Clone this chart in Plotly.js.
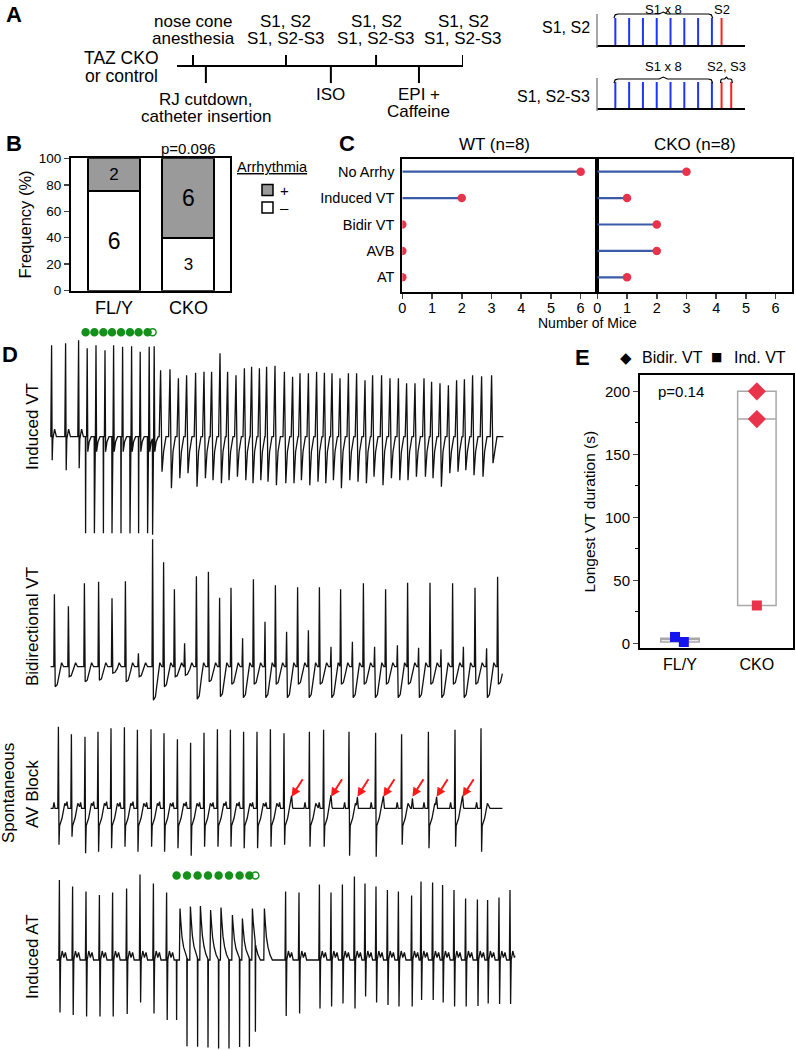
<!DOCTYPE html>
<html>
<head>
<meta charset="utf-8">
<script src="https://cdn.plot.ly/plotly-3.0.1.min.js"></script>
<style>html,body{margin:0;padding:0;background:#fff;}</style>
</head>
<body>
<div id="chart" style="width:796px;height:1050px;"></div>
<script>
// ---------- data ----------
// A: protocol timeline (position along the protocol line, 0-100)
let upSteps = [5.6, 38.1, 69.6, 100];
let upLabels = [["nose cone", "anesthesia"], ["S1, S2", "S1, S2-S3"], ["S1, S2", "S1, S2-S3"], ["S1, S2", "S1, S2-S3"]];
let downSteps = [10.1, 53.8, 84.6];
let downLabels = [["RJ cutdown,", "catheter insertion"], ["ISO"], ["EPI +", "Caffeine"]];
// A: pacing trains (ms)
let s1Times = [0, 100, 200, 300, 400, 500, 600, 700];
let s2Times = [770];
let s2s3Times = [770, 840];

// B: arrhythmia frequency (%) and counts
let groupsB = ["FL/Y", "CKO"];
let pctNoArr = [75, 40];
let pctArr = [25, 60];
let nNoArr = [6, 3];
let nArr = [2, 6];

// C: number of mice per arrhythmia type
let arrhyTypes = ["No Arrhy", "Induced VT", "Bidir VT", "AVB", "AT"];
let wtMice = [6, 2, 0, 0, 0];
let ckoMice = [3, 1, 2, 2, 1];

// E: longest VT duration (s)
let groupsE = ["FL/Y", "CKO"];
let flyIndVT = [5, 1];
let flyIndJitter = [-0.065, 0.05];
let ckoBidirVT = [200, 178];
let ckoIndVT = [30];
let boxQ1 = [1, 30], boxMed = [3, 178], boxQ3 = [4, 200];

// D: ECG beats (time ms, amplitude mV)
let vtPreTimes = [8, 78, 143], vtPreR = [1.83, 1.87, 1.93], vtPreS = [0.47, 0.67, 0.63];
let vtStim = [178, 222, 267, 310, 355, 400, 443, 488, 513], vtStimAmp = 1.93;
let vtPacedR = [1.77, 1.83, 1.73, 1.83, 1.8, 1.81, 1.7, 1.8, 1.81];
let vtTimes = [553,600,642,683,728,770,808,850,888,930,972,1008,1047,1083,1125,1172,1213,1250,1292,1333,1372,1410,1450,1492,1533,1575,1613,1658,1700,1742,1783,1825,1870,1908,1950,1992,2033,2072,2113,2158,2208];
let vtR = [1.33,1.35,1.17,1.23,1.28,1.30,1.30,1.67,1.30,1.23,1.37,1.40,1.37,1.40,1.42,1.30,1.20,1.27,1.27,1.30,1.28,1.27,1.17,1.27,1.27,1.13,1.23,1.23,1.17,1.17,1.07,1.07,1.17,1.10,1.07,1.03,1.13,1.15,1.23,1.21,1.23];
let vtS = [0.70,1.03,0.83,0.73,1.00,0.83,0.87,0.93,0.87,0.80,0.87,0.93,0.87,0.90,0.97,0.93,0.93,0.87,0.97,0.90,0.93,0.87,1.03,0.87,0.90,0.93,0.80,0.97,0.83,0.87,0.87,0.80,0.80,0.83,1.00,0.73,0.70,0.67,0.77,0.80,0.53];

let bvtTimes = [22,92,172,243,310,377,442,513,568,622,673,732,792,848,905,963,1017,1075,1127,1183,1238,1292,1347,1405,1453,1512,1567,1623,1678,1737,1788,1843,1900,1955,2013,2067,2125,2183,2238];
let bvtR = [1.45,1.21,1.67,1.70,1.37,1.71,0.27,2.55,2.09,1.55,0.47,1.81,1.90,1.38,1.58,0.57,1.75,0.90,1.63,0.70,1.59,0.73,1.59,0.40,1.55,0.50,1.67,0.40,1.55,0.43,1.68,0.38,1.68,0.35,1.67,0.40,1.58,0.37,1.80];
let bvtS = [0.40,0.20,0.30,0.27,0.13,0.30,0.20,0.67,0.40,0.20,0.17,0.65,0.30,0.60,0.35,0.62,0.35,0.62,0.35,0.62,0.35,0.62,0.35,0.62,0.35,0.62,0.35,0.62,0.35,0.62,0.35,0.62,0.35,0.62,0.35,0.62,0.35,0.62,0.35];

let avbTimes = [42,107,175,240,305,372,437,505,570,637,703,770,837,902,968,1035,1102,1170,1297,1368,1495,1628,1758,1892,2025,2155];
let avbR = [1.63,1.48,1.43,1.53,1.60,1.62,1.57,1.58,1.50,1.38,1.31,1.51,1.58,1.57,1.53,1.53,1.58,1.50,1.53,1.57,1.53,1.51,1.48,1.53,1.57,1.60];
let avbS = [0.73,0.57,0.90,0.87,0.80,0.77,0.87,0.77,0.87,0.80,0.95,0.77,0.77,0.77,0.80,0.80,0.77,0.73,0.77,0.77,0.95,0.97,0.73,0.80,0.77,0.87];
let avbBlockedP = [1208, 1405, 1537, 1667, 1812, 1933, 2063];

let atPreTimes = [47,113,180,247,313,383,450,517,583];
let atPreR = [1.60,1.47,1.37,1.30,1.35,1.43,1.71,1.53,1.35];
let atPreS = [1.05,1.10,1.13,1.13,1.13,1.08,0.85,1.07,1.20];
let atStim = [633,685,738,790,843,895,948,997,1027];
let atStimAmp = [1.2,1.77,1.77,1.77,1.77,1.77,1.77,1.77,1.77];
let atPacedTimes = [650,702,752,803,855,912,962,1012,1072];
let atPacedR = [1.03,1.07,1.08,1.00,1.05,0.90,0.83,1.03,1.03];
let atPostTimes = [1178,1245,1347,1405,1462,1522,1575,1630,1687,1742,1808,1855,1913,1963,2020,2078,2137,2188,2245,2300];
let atPostR = [1.37,1.35,1.51,1.35,1.51,1.67,1.53,1.47,1.40,1.37,1.29,1.57,1.55,1.50,1.40,1.23,1.21,1.20,1.25,1.40];
let atPostS = [1.12,1.07,0.97,0.93,0.87,0.97,0.73,0.85,0.90,0.93,0.93,0.80,0.80,0.85,0.93,0.93,0.92,0.87,0.88,0.88];

// ---------- helpers ----------
const W = 796, H = 1050;
const FONT = "Liberation Sans, Arial, Helvetica, sans-serif";
function fx(px){ return px / W; }
function fy(py){ return 1 - py / H; }
function dom(a, b){ return [fx(a), fx(b)]; }
function vdom(top, bottom){ return [fy(bottom), fy(top)]; }
function note(text, px, py, size, extra){
	return Object.assign({text: text, x: fx(px), y: fy(py), xref: "paper", yref: "paper", showarrow: false,
		font: {family: FONT, size: size, color: "#000"}, xanchor: "center", yanchor: "middle"}, extra || {});
}

// piecewise-linear beat shapes, summed
function valueAt(ev, t){
	if(t <= ev[0][0] || t >= ev[ev.length-1][0]) return 0;
	for(let i = 0; i < ev.length-1; i++){
		let a = ev[i], b = ev[i+1];
		if(t >= a[0] && t <= b[0]){
			return b[0] === a[0] ? b[1] : a[1] + (b[1]-a[1])*(t-a[0])/(b[0]-a[0]);
		}
	}
	return 0;
}
function signal(events, t0, t1){
	let knots = new Set([t0, t1]);
	events.forEach(ev => ev.forEach(p => knots.add(p[0])));
	let ts = Array.from(knots).filter(t => t >= t0 && t <= t1).sort((a, b) => a - b);
	let ys = ts.map(t => events.reduce((s, ev) => s + valueAt(ev, t), 0));
	return {x: ts, y: ys};
}
const qrs = (t, R, S) => [[t-4,0],[t,R],[t+3,-S],[t+6,-0.05],[t+15,0.15],[t+24,0]];
const stim = (s, D) => [[s-1,0],[s,-D],[s+1.5,0]];
const paced1 = (r, R) => [[r-3,0],[r,R],[r+3,-0.3],[r+10,-0.1],[r+20,0]];
const vtBeat = (t, R, S) => [[t-7,0],[t,R],[t+7,-S],[t+15,-0.3],[t+27,0]];
const bvtBeat = (t, R, S) => [[t-3,0],[t,R],[t+4,-S],[t+14,-0.9*S],[t+26,-0.3*S],[t+36,0.08],[t+46,0]];
const avbBeat = (t, R, S) => [[t-3,0],[t,R],[t+3,-S],[t+6,-0.35],[t+18,-0.2],[t+32,0.1],[t+45,0]];
const pWave = (p, A) => [[p-5,0],[p,A],[p+5,0]];
const atBeat = (t, R, S) => [[t-3,0],[t,R],[t+3,-S],[t+6,0],[t+14,0.18],[t+22,0.05],[t+30,0.15],[t+38,0]];
const atPaced = (r, R) => [[r-3,0],[r,R],[r+4,0.75*R],[r+10,0.45*R],[r+18,0.25*R],[r+28,0.1*R],[r+40,0]];

let traces = [], annotations = [], shapes = [];
const lineOnly = {mode: "lines", hoverinfo: "skip", showlegend: false};

// ---------- A: timeline ----------
traces.push(Object.assign({x: [0, upSteps[upSteps.length-1]], y: [0, 0], xaxis: "x", yaxis: "y", line: {color: "#000", width: 2}}, lineOnly));
let tx = [], ty = [];
upSteps.forEach(s => { tx.push(s, s, null); ty.push(0, 1, null); });
downSteps.forEach(s => { tx.push(s, s, null); ty.push(0, -1.55, null); });
traces.push(Object.assign({x: tx, y: ty, xaxis: "x", yaxis: "y", line: {color: "#000", width: 2}}, lineOnly));
upSteps.forEach((s, i) => upLabels[i].forEach((ln, j) => {
	annotations.push({text: ln, x: s, xref: "x", y: fy(21 + 17*j), yref: "paper", showarrow: false,
		font: {family: FONT, size: 17, color: "#000"}, xanchor: "center", yanchor: "middle"});
}));
const downLineY = [99, 94, 94];
downSteps.forEach((s, i) => downLabels[i].forEach((ln, j) => {
	annotations.push({text: ln, x: s, xref: "x", y: fy(downLineY[i] + 17*j), yref: "paper", showarrow: false,
		font: {family: FONT, size: 17, color: "#000"}, xanchor: "center", yanchor: "middle"});
}));
annotations.push(note("TAZ CKO", 121, 58, 17.5), note("or control", 121, 76, 17.5));
annotations.push(note("<b>A</b>", 14, 0, 22, {yanchor: "top", y: 1}));

// ---------- A: pacing trains ----------
function pulses(times){
	let x = [], y = [];
	times.forEach(t => { x.push(t, t, null); y.push(0, 1, null); });
	return {x: x, y: y};
}
function brace(x0, x1, yTop, yEnd, yPeak, k){
	let xm = (x0 + x1) / 2;
	return {x: [x0, x0+k*0.3, x0+k, xm-k, xm, xm+k, x1-k, x1-k*0.3, x1],
		y: [yEnd, yTop - (yTop-yEnd)*0.2, yTop, yTop, yPeak, yTop, yTop, yTop - (yTop-yEnd)*0.2, yEnd]};
}
const BLUE = "#1f35ff", RED = "#ff2020";
[["x2", "y2", s2Times, 1.148, 1.0, 1.22], ["x3", "y3", s2s3Times, 1.115, 0.962, 1.19]].forEach(d => {
	let p1 = pulses(s1Times), p2 = pulses(d[2]);
	traces.push(Object.assign({x: p1.x, y: p1.y, xaxis: d[0], yaxis: d[1], line: {color: BLUE, width: 2}}, lineOnly));
	traces.push(Object.assign({x: p2.x, y: p2.y, xaxis: d[0], yaxis: d[1], line: {color: RED, width: 2}}, lineOnly));
	let b = brace(s1Times[0] - 10, s1Times[s1Times.length-1] + 5, d[3], d[4], d[5], 30);
	traces.push(Object.assign({x: b.x, y: b.y, xaxis: d[0], yaxis: d[1], line: {color: "#000", width: 1.2}}, lineOnly));
	if(d[2].length > 1){
		let b2 = brace(d[2][0] - 8, d[2][d[2].length-1] + 8, d[3], d[4], d[5], 12);
		traces.push(Object.assign({x: b2.x, y: b2.y, xaxis: d[0], yaxis: d[1], line: {color: "#000", width: 1.2}}, lineOnly));
	}
});
const s1Mid = (s1Times[0] + s1Times[s1Times.length-1]) / 2;
const smallFont = {family: FONT, size: 13, color: "#000"};
annotations.push({text: "S1 x 8", x: s1Mid, xref: "x2", y: 1, yref: "paper", yanchor: "top", showarrow: false, font: smallFont});
annotations.push({text: "S2", x: s2Times[0], xref: "x2", y: 1, yref: "paper", yanchor: "top", showarrow: false, font: smallFont});
annotations.push({text: "S1 x 8", x: s1Mid, xref: "x3", y: fy(76), yref: "paper", yanchor: "bottom", showarrow: false, font: smallFont});
annotations.push({text: "S2, S3", x: (s2s3Times[0] + s2s3Times[1]) / 2, xref: "x3", y: fy(76), yref: "paper", yanchor: "bottom", showarrow: false, font: smallFont});
annotations.push(note("S1, S2", 592, 28, 16, {xanchor: "right"}), note("S1, S2-S3", 592, 97, 16, {xanchor: "right"}));
shapes.push({type: "line", xref: "paper", yref: "paper", x0: fx(597), x1: fx(597), y0: fy(48), y1: fy(14), line: {color: "#8a8a8a", width: 1.5}});
shapes.push({type: "line", xref: "paper", yref: "paper", x0: fx(597), x1: fx(597), y0: fy(111), y1: fy(78), line: {color: "#8a8a8a", width: 1.5}});

// ---------- B: stacked bars ----------
traces.push({type: "bar", x: groupsB, y: pctNoArr, xaxis: "x4", yaxis: "y4", width: 0.7, name: "–",
	marker: {color: "#ffffff", line: {color: "#000", width: 2}}, text: nNoArr.map(String),
	textposition: "inside", insidetextanchor: "middle", constraintext: "none",
	textfont: {family: FONT, size: [23, 17], color: "#000"}, hoverinfo: "skip", showlegend: false});
traces.push({type: "bar", x: groupsB, y: pctArr, xaxis: "x4", yaxis: "y4", width: 0.7, name: "+",
	marker: {color: "#9a9a9a", line: {color: "#000", width: 2}}, text: nArr.map(String),
	textposition: "inside", insidetextanchor: "middle", constraintext: "none",
	textfont: {family: FONT, size: [17, 23], color: "#000"}, hoverinfo: "skip", showlegend: false});
annotations.push(note("<b>B</b>", 14, 143, 22), note("p=0.096", 188, 148, 15));
annotations.push(note("<u>Arrhythmia</u>", 235, 167, 14.5, {xanchor: "left"}));
shapes.push({type: "rect", xref: "paper", yref: "paper", x0: fx(262), x1: fx(273), y0: fy(195.5), y1: fy(184.5), fillcolor: "#9a9a9a", line: {color: "#000", width: 1.5}});
shapes.push({type: "rect", xref: "paper", yref: "paper", x0: fx(262), x1: fx(273), y0: fy(213), y1: fy(202), fillcolor: "#ffffff", line: {color: "#000", width: 1.5}});
annotations.push(note("+", 278, 190, 15, {xanchor: "left"}), note("–", 278, 207.5, 15, {xanchor: "left"}));

// ---------- C: lollipops ----------
const LOLLI_LINE = "#3a5ba8", LOLLI_DOT = "#e8334a";
[["x5", "y5", wtMice], ["x6", "y6", ckoMice]].forEach(d => {
	let lx = [], ly = [];
	d[2].forEach((v, i) => { lx.push(0, v, null); ly.push(arrhyTypes[i], arrhyTypes[i], null); });
	traces.push(Object.assign({x: lx, y: ly, xaxis: d[0], yaxis: d[1], line: {color: LOLLI_LINE, width: 2.2}}, lineOnly));
	traces.push({x: d[2], y: arrhyTypes, xaxis: d[0], yaxis: d[1], mode: "markers", hoverinfo: "skip", showlegend: false,
		marker: {color: LOLLI_DOT, size: 8.5}});
});
annotations.push(note("<b>C</b>", 347, 143, 22), note("WT (n=8)", 494, 145, 17), note("CKO (n=8)", 695, 145, 17));
annotations.push(note("Number of Mice", 587, 323, 14));

// ---------- E: VT duration ----------
traces.push({type: "box", x: [0, 1], q1: boxQ1, median: boxMed, q3: boxQ3, lowerfence: boxQ1, upperfence: boxQ3,
	xaxis: "x7", yaxis: "y7", width: 0.5, fillcolor: "rgba(0,0,0,0)", line: {color: "#a8a8a8", width: 1.5},
	boxpoints: false, hoverinfo: "skip", showlegend: false});
traces.push({x: flyIndVT.map((v, i) => 0 + flyIndJitter[i]), y: flyIndVT, xaxis: "x7", yaxis: "y7", mode: "markers",
	marker: {symbol: "square", size: 10, color: "#1414ee"}, cliponaxis: false, hoverinfo: "skip", showlegend: false});
traces.push({x: ckoBidirVT.map(() => 1), y: ckoBidirVT, xaxis: "x7", yaxis: "y7", mode: "markers",
	marker: {symbol: "diamond", size: 14, color: "#e8334a"}, cliponaxis: false, hoverinfo: "skip", showlegend: false});
traces.push({x: ckoIndVT.map(() => 1), y: ckoIndVT, xaxis: "x7", yaxis: "y7", mode: "markers",
	marker: {symbol: "square", size: 10, color: "#e8334a"}, cliponaxis: false, hoverinfo: "skip", showlegend: false});
annotations.push(note("<b>E</b>", 582, 357, 22), note("p=0.14", 681, 392, 15));
annotations.push({text: "◆", x: fx(634), y: fy(358), xref: "paper", yref: "paper", showarrow: false, font: {family: "DejaVu Sans", size: 15, color: "#000"}});
annotations.push(note("Bidir. VT", 640, 358, 16, {xanchor: "left"}));
annotations.push({text: "■", x: fx(724), y: fy(357), xref: "paper", yref: "paper", showarrow: false, font: {family: "DejaVu Sans", size: 12, color: "#000"}});
annotations.push(note("Ind. VT", 732, 358, 16, {xanchor: "left"}));

// ---------- D: ECG traces ----------
let ev1 = [];
vtPreTimes.forEach((t, i) => ev1.push(qrs(t, vtPreR[i], vtPreS[i])));
vtStim.forEach((s, i) => { ev1.push(stim(s, vtStimAmp)); ev1.push(paced1(s + 8, vtPacedR[i])); });
vtTimes.forEach((t, i) => ev1.push(vtBeat(t, vtR[i], vtS[i])));
let ecg1 = signal(ev1, 3, 2267);

let ev2 = [];
bvtTimes.forEach((t, i) => ev2.push(bvtBeat(t, bvtR[i], bvtS[i])));
let ecg2 = signal(ev2, 3, 2262);

let ev3 = [];
avbTimes.forEach((t, i) => { ev3.push(avbBeat(t, avbR[i], avbS[i])); ev3.push(pWave(t - 22, 0.12)); });
avbBlockedP.forEach(p => ev3.push(pWave(p, 0.2)));
let ecg3 = signal(ev3, 3, 2262);

let ev4 = [];
atPreTimes.forEach((t, i) => ev4.push(atBeat(t, atPreR[i], atPreS[i])));
atStim.forEach((s, i) => ev4.push(stim(s, atStimAmp[i])));
atPacedTimes.forEach((r, i) => ev4.push(atPaced(r, atPacedR[i])));
atPostTimes.forEach((t, i) => ev4.push(atBeat(t, atPostR[i], atPostS[i])));
let ecg4 = signal(ev4, 33, 2325);

[[ecg1, "x8", "y8"], [ecg2, "x9", "y9"], [ecg3, "x10", "y10"], [ecg4, "x11", "y11"]].forEach(d => {
	traces.push(Object.assign({x: d[0].x, y: d[0].y, xaxis: d[1], yaxis: d[2], line: {color: "#111", width: 1.3}}, lineOnly));
});
// pacing markers
[[vtStim, "x8", "y8", 2.09], [atStim, "x11", "y11", 1.69]].forEach(d => {
	let n = d[0].length;
	traces.push({x: d[0], y: d[0].map(() => d[3]), xaxis: d[1], yaxis: d[2], mode: "markers", cliponaxis: false,
		hoverinfo: "skip", showlegend: false,
		marker: {size: 7, color: "#15901a", symbol: d[0].map((_, i) => i < n - 1 ? "circle" : "circle-open"), line: {color: "#15901a", width: 1.5}}});
});
avbBlockedP.forEach(p => annotations.push({x: p, y: 0.23, xref: "x10", yref: "y10", text: "", showarrow: true,
	ax: 12, ay: -19, arrowhead: 2, arrowsize: 0.9, arrowwidth: 2, arrowcolor: "#ff1a1a"}));
annotations.push(note("<b>D</b>", 10, 354, 22));
annotations.push(note("Induced VT", 32, 427, 17, {textangle: -90}));
annotations.push(note("Bidirectional VT", 32, 627, 17, {textangle: -90}));
annotations.push(note("Spontaneous", 8, 793, 17, {textangle: -90}));
annotations.push(note("AV Block", 32, 794, 17, {textangle: -90}));
annotations.push(note("Induced AT", 32, 957, 17, {textangle: -90}));

// ---------- layout ----------
const hidden = {visible: false, showgrid: false, zeroline: false, fixedrange: true};
const frame = {showline: true, mirror: true, linecolor: "#000", linewidth: 2, showgrid: false, zeroline: false, fixedrange: true};
let layout = {
	width: W, height: H, margin: {l: 0, r: 0, t: 0, b: 0}, paper_bgcolor: "#fff", plot_bgcolor: "rgba(0,0,0,0)",
	font: {family: FONT, color: "#000"}, barmode: "stack", showlegend: false,
	annotations: annotations, shapes: shapes,
	xaxis: Object.assign({}, hidden, {domain: dom(177, 463), range: [0, 100], anchor: "y"}),
	yaxis: Object.assign({}, hidden, {domain: vdom(50, 90), range: [-24/11, 16/11], anchor: "x"}),
	xaxis2: {domain: dom(597, 745), range: [-133, 940], anchor: "y2", showline: true, linecolor: "#000", linewidth: 1.5,
		showticklabels: false, ticks: "", showgrid: false, zeroline: false, fixedrange: true},
	yaxis2: Object.assign({}, hidden, {domain: vdom(2, 45), range: [0, 43/27], anchor: "x2"}),
	xaxis3: {domain: dom(597, 745), range: [-133, 940], anchor: "y3", showline: true, linecolor: "#000", linewidth: 1.5,
		showticklabels: false, ticks: "", showgrid: false, zeroline: false, fixedrange: true},
	yaxis3: Object.assign({}, hidden, {domain: vdom(65, 108), range: [0, 43/26], anchor: "x3"}),
	xaxis4: Object.assign({}, frame, {domain: dom(71, 230), range: [-0.58, 1.56], anchor: "y4", ticks: "",
		tickfont: {family: FONT, size: 18}}),
	yaxis4: Object.assign({}, frame, {domain: vdom(158.3, 290.7), range: [0, 100], dtick: 20, anchor: "x4",
		ticks: "outside", ticklen: 5, tickwidth: 1.5, tickfont: {family: FONT, size: 13.5},
		title: {text: "Frequency (%)", font: {family: FONT, size: 16.5}, standoff: 3}}),
	xaxis5: Object.assign({}, frame, {domain: dom(402.3, 597.3), range: [0, 6.56], dtick: 1, anchor: "y5",
		ticks: "outside", ticklen: 5, tickwidth: 1.5, ticklabelstandoff: -3, tickfont: {family: FONT, size: 14.5}}),
	yaxis5: Object.assign({}, frame, {domain: vdom(159.3, 291.7), type: "category", categoryorder: "array",
		categoryarray: arrhyTypes, range: [4.545, -0.47], anchor: "x5", ticks: "", ticklabelstandoff: 3,
		tickfont: {family: FONT, size: 14.5}}),
	xaxis6: Object.assign({}, frame, {domain: dom(597.3, 791.7), range: [0, 6.54], dtick: 1, anchor: "y6",
		ticks: "outside", ticklen: 5, tickwidth: 1.5, ticklabelstandoff: -3, tickfont: {family: FONT, size: 14.5}}),
	yaxis6: Object.assign({}, frame, {domain: vdom(159.3, 291.7), type: "category", categoryorder: "array",
		categoryarray: arrhyTypes, range: [4.545, -0.47], anchor: "x6", ticks: "", showticklabels: false}),
	xaxis7: Object.assign({}, frame, {domain: dom(640, 793), range: [-0.52, 1.47], tickvals: [0, 1], ticktext: groupsE,
		anchor: "y7", ticks: "", tickfont: {family: FONT, size: 16}}),
	yaxis7: Object.assign({}, frame, {domain: vdom(375, 648.3), range: [-4, 213], tickvals: [0, 50, 100, 150, 200],
		anchor: "x7", ticks: "outside", ticklen: 5, tickwidth: 1.5, tickfont: {family: FONT, size: 15},
		minor: {dtick: 25, tick0: 0, ticks: "outside", ticklen: 3, tickwidth: 1.2, tickcolor: "#000"},
		title: {text: "Longest VT duration (s)", font: {family: FONT, size: 15.5}, standoff: 6}})
};
[[8, 328, 540, 436.7], [9, 537, 705, 666.7], [10, 715, 862, 808.3], [11, 868, 1050, 960]].forEach(d => {
	layout["xaxis" + d[0]] = Object.assign({}, hidden, {domain: dom(50, 516), range: [0, 2330], anchor: "y" + d[0]});
	layout["yaxis" + d[0]] = Object.assign({}, hidden, {domain: vdom(d[1], d[2]),
		range: [-(d[2] - d[3]) / 50, (d[3] - d[1]) / 50], anchor: "x" + d[0]});
});

Plotly.newPlot("chart", traces, layout, {displayModeBar: false, staticPlot: true});
</script>
</body>
</html>
